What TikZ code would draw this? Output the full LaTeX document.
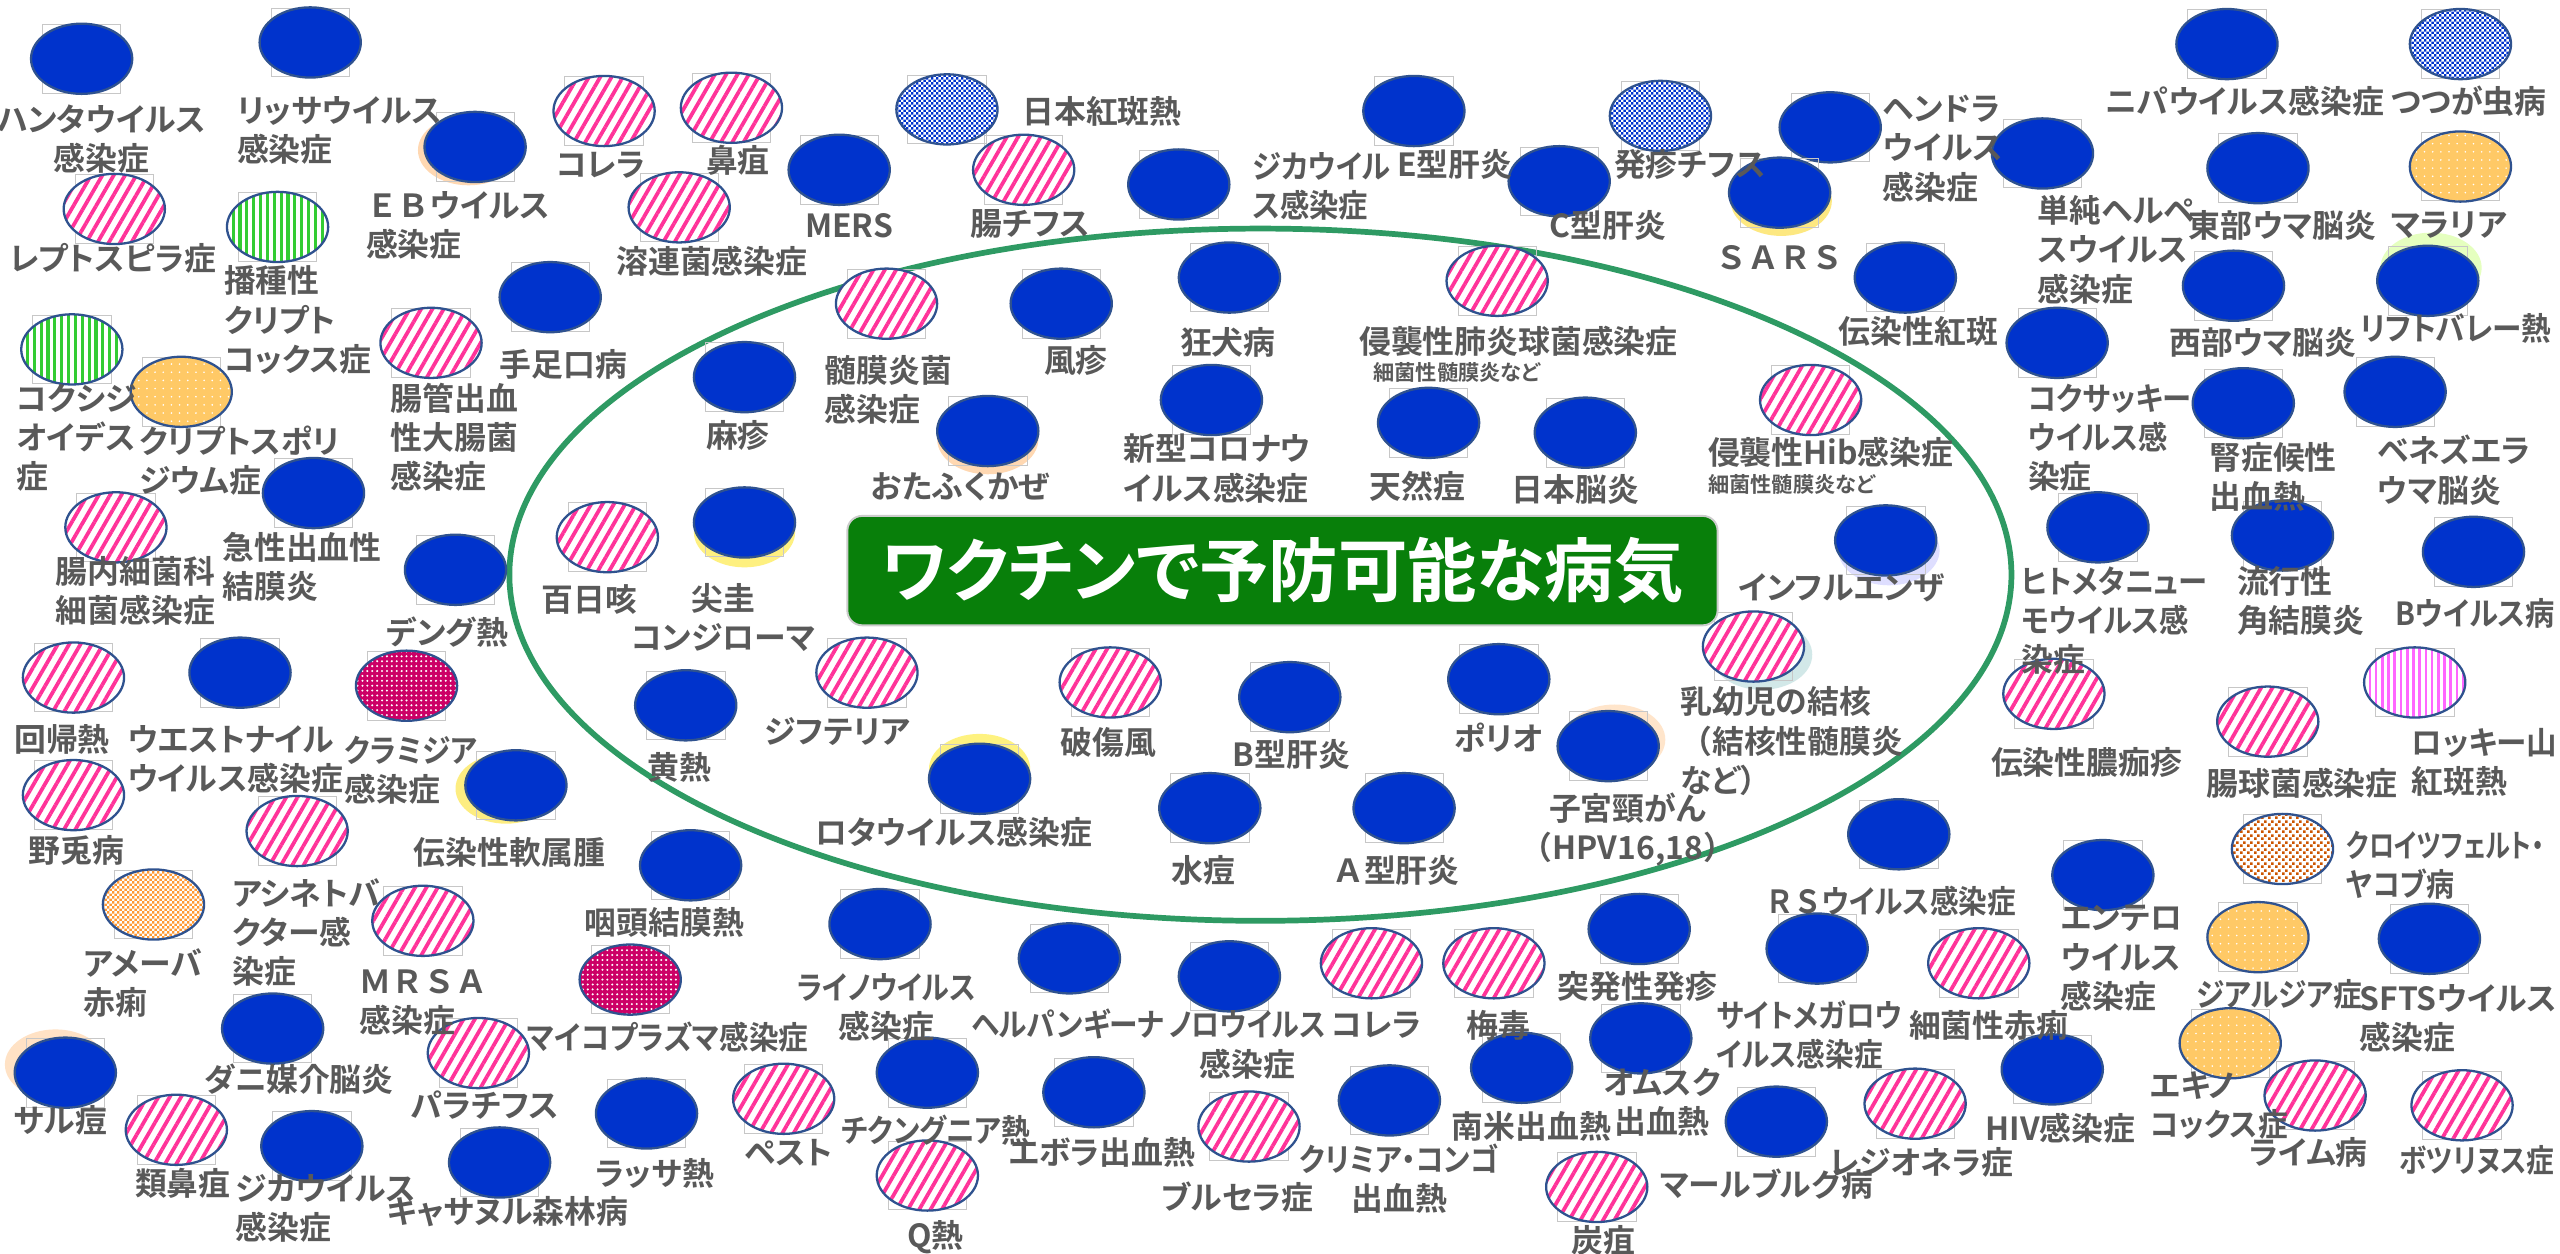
\documentclass[tikz,border=0pt]{standalone}
\usepackage{fontspec}
\usetikzlibrary{shapes.geometric,patterns.meta}
\newfontfamily\jp{Noto Sans CJK JP}[BoldFont={Noto Sans CJK JP Bold},RawFeature=+palt]
\newfontfamily\jpn{Noto Sans CJK JP}[BoldFont={Noto Sans CJK JP Bold}]
\definecolor{fillblue}{HTML}{0033CC}
\definecolor{edgeblue}{HTML}{2F528F}
\definecolor{txtgray}{HTML}{595959}
\definecolor{stripepink}{HTML}{FF3399}
\definecolor{stripegreen}{HTML}{33CC33}
\definecolor{dotyellow}{HTML}{FFC966}
\definecolor{dotcrimson}{HTML}{CC0066}
\definecolor{amoebaorange}{HTML}{FF9933}
\definecolor{vpink}{HTML}{FF66FF}
\definecolor{cjdbrown}{HTML}{CC5500}
\definecolor{ringgreen}{HTML}{2E9A63}
\definecolor{titlegreen}{HTML}{087F0A}
\pgfdeclarelayer{labels}
\pgfsetlayers{main,labels}
\pgfdeclarepattern{name=checker, type=uncolored,
  bottom left={\pgfpoint{0pt}{0pt}}, top right={\pgfpoint{3pt}{3pt}},
  tile size={\pgfpoint{3pt}{3pt}},
  code={\pgfpathrectangle{\pgfpoint{0pt}{0pt}}{\pgfpoint{1.5pt}{1.5pt}}%
        \pgfpathrectangle{\pgfpoint{1.5pt}{1.5pt}}{\pgfpoint{1.5pt}{1.5pt}}%
        \pgfusepath{fill}}}
\pgfdeclarepattern{name=sqdots, type=uncolored,
  bottom left={\pgfpoint{0pt}{0pt}}, top right={\pgfpoint{4pt}{4pt}},
  tile size={\pgfpoint{4pt}{4pt}},
  code={\pgfpathrectangle{\pgfpoint{0pt}{0pt}}{\pgfpoint{1.7pt}{1.7pt}}%
        \pgfpathrectangle{\pgfpoint{2pt}{2pt}}{\pgfpoint{1.7pt}{1.7pt}}%
        \pgfusepath{fill}}}
\tikzset{
  ov/.style={ellipse, minimum width=62pt, minimum height=43pt, inner sep=0pt, draw=edgeblue, line width=1.4pt},
  bl/.style={ov, fill=fillblue},
  st/.style={ov, preaction={fill=white}, pattern={Lines[angle=60,distance=6pt,line width=2.3pt]}, pattern color=stripepink},
  gr/.style={ov, preaction={fill=white}, pattern={Lines[angle=90,distance=4.2pt,line width=2pt]}, pattern color=stripegreen},
  vp/.style={ov, preaction={fill=white}, pattern={Lines[angle=90,distance=3.8pt,line width=1.6pt]}, pattern color=vpink},
  yd/.style={ov, preaction={fill=dotyellow}, pattern={Dots[radius=0.55pt,distance=5pt]}, pattern color=white},
  cd/.style={ov, preaction={fill=dotcrimson}, pattern={Dots[radius=0.7pt,distance=3pt]}, pattern color=white},
  bc/.style={ov, preaction={fill=fillblue}, pattern=checker, pattern color=white},
  oc/.style={ov, preaction={fill=amoebaorange}, pattern=checker, pattern color=white},
  bd/.style={ov, preaction={fill=white}, pattern=sqdots, pattern color=cjdbrown},
  fr/.style={rectangle, draw=black!22, line width=0.5pt, minimum width=48pt, minimum height=42pt, inner sep=0pt},
  gl/.style={ellipse, minimum width=62pt, minimum height=43pt, inner sep=0pt, fill=#1, opacity=0.5},
  lbl/.style={font=\jp\bfseries\fontsize{19.5}{24}\selectfont, text=txtgray, inner sep=0pt, align=center},
  L/.style={anchor=west, align=left},
  sm/.style={font=\jp\bfseries\fontsize{13}{15}\selectfont, text=txtgray, inner sep=0pt, anchor=west},
  titlebox/.style={rectangle, rounded corners=9pt, fill=titlegreen, draw=black!20, line width=1.2pt,
    minimum width=533pt, minimum height=67pt, text=white, inner sep=0pt,
    font=\jp\bfseries\fontsize{42.5}{47}\selectfont},
  ring/.style={ellipse, draw=ringgreen, line width=3.5pt, minimum width=920pt, minimum height=424pt, inner sep=0pt}
}
\newcommand{\dz}[8]{%
  \node[fr] (#1f) at (#3,#4) {};
  \node[#2] (#1) at (#3,#4) {};
  \begin{pgfonlayer}{labels}\node[lbl,#7] (#1t) at (#5,#6) {#8};\end{pgfonlayer}}
\newcommand{\glow}[4]{\node[gl=#2] (#1) at (#3,#4) {};}
\newcommand{\nx}[2][0.9]{\scalebox{#1}[1]{#2}}
\begin{document}
\begin{tikzpicture}[x=1pt,y=-1pt]
\fill[white] (0,0) rectangle (1568,768);
\path[use as bounding box] (0,0) rectangle (1568,768);
\node[ring] (ring) at (772,352) {};
% ---- outside the ring ----
\dz{hanta}{bl}{50}{36}{62}{85}{}{ハンタウイルス\\感染症}
\dz{lyssa}{bl}{190}{26}{145}{80}{L}{リッサウイルス\\感染症}
\dz{lepto}{st}{70}{128}{69}{158}{}{レプトスピラ症}
\dz{dcrypto}{gr}{170}{139}{137}{196}{L}{播種性\\クリプト\\コックス症}
\glow{ebg}{orange!60}{287}{92}
\dz{ebv}{bl}{291}{90}{224}{138}{L}{{\jpn ＥＢ}ウイルス\\感染症}
\dz{cholA}{st}{370}{68}{368}{101}{}{コレラ}
\dz{glanders}{st}{448}{66}{452}{98}{}{鼻疽}
\dz{strep}{st}{416}{127}{436}{160}{}{溶連菌感染症}
\dz{mers}{bl}{514}{104}{520}{138}{}{MERS}
\dz{jsf}{bc}{580}{67}{626}{68}{anchor=west}{日本紅斑熱}
\dz{typhoid}{st}{627}{104}{631}{137}{}{腸チフス}
\dz{zikaA}{bl}{722}{113}{767}{114}{L}{\nx[0.92]{ジカウイル}\\\nx[0.92]{ス感染症}}
\dz{hepE}{bl}{866}{68}{891}{101}{}{E型肝炎}
\dz{typhus}{bc}{1017}{71}{1035}{101}{}{発疹チフス}
\dz{hepC}{bl}{955}{111}{985}{138}{}{C型肝炎}
\dz{hendra}{bl}{1121}{78}{1153}{91}{L}{ヘンドラ\\ウイルス\\感染症}
\glow{sarsg}{yellow!70!orange}{1091}{123}
\dz{sars}{bl}{1090}{118}{1090}{158}{}{{\jpn ＳＡＲＳ}}
\dz{fifth}{bl}{1167}{170}{1175}{203}{}{伝染性紅斑}
\dz{hsv}{bl}{1251}{94}{1248}{153}{L}{単純ヘルペ\\スウイルス\\感染症}
\dz{nipah}{bl}{1364}{27}{1375}{62}{}{ニパウイルス感染症}
\dz{tsutsuga}{bc}{1507}{27}{1512}{62}{}{つつが虫病}
\dz{eee}{bl}{1383}{103}{1398}{138}{}{東部ウマ脳炎}
\dz{malaria}{yd}{1507}{102}{1500}{138}{}{マラリア}
\dz{wee}{bl}{1368}{175}{1386}{210}{}{西部ウマ脳炎}
\glow{rvfg}{green!40!yellow!50}{1489}{164}
\dz{rvf}{bl}{1487}{172}{1504}{201}{}{\nx[0.93]{リフトバレー熱}}
\dz{coxsackie}{bl}{1260}{210}{1242}{268}{L}{\nx[0.92]{コクサッキー}\\\nx[0.92]{ウイルス感}\\染症}
\dz{hfrs}{bl}{1374}{247}{1353}{292}{L}{腎症候性\\出血熱}
\dz{vee}{bl}{1467}{240}{1456}{288}{L}{ベネズエラ\\ウマ脳炎}
\dz{hmpv}{bl}{1285}{323}{1238}{380}{L}{\nx[0.92]{ヒトメタニュー}\\\nx[0.92]{モウイルス感}\\染症}
\dz{ekc}{bl}{1398}{328}{1370}{368}{L}{流行性\\角結膜炎}
\dz{bvirus}{bl}{1515}{338}{1516}{376}{}{\nx[0.92]{Bウイルス病}}
\dz{rmsf}{vp}{1479}{418}{1477}{467}{L}{\nx[0.96]{ロッキー山}\\紅斑熱}
\dz{impetigo}{st}{1258}{425}{1278}{467}{}{伝染性膿痂疹}
\dz{enterococ}{st}{1389}{442}{1410}{480}{}{腸球菌感染症}
\dz{cjd}{bd}{1398}{520}{1437}{530}{L}{\nx[0.79]{クロイツフェルト・}\\\nx[0.88]{ヤコブ病}}
\dz{entero}{bl}{1288}{536}{1262}{587}{L}{エンテロ\\ウイルス\\感染症}
\dz{giardia}{yd}{1383}{574}{1396}{609}{}{\nx{ジアルジア症}}
\dz{sfts}{bl}{1488}{575}{1445}{624}{L}{SFTSウイルス\\感染症}
\dz{echino}{yd}{1366}{639}{1317}{677}{L}{エキノ\\\nx[0.93]{コックス症}}
\dz{lyme}{st}{1418}{671}{1414}{706}{}{ライム病}
\dz{botulism}{st}{1508}{677}{1517}{711}{}{\nx[0.87]{ボツリヌス症}}
\dz{hiv}{bl}{1257}{655}{1262}{691}{}{HIV感染症}
\dz{legion}{st}{1173}{676}{1177}{712}{}{レジオネラ症}
\dz{shigella}{st}{1212}{590}{1218}{628}{}{細菌性赤痢}
\dz{cmv}{bl}{1113}{581}{1051}{634}{L}{\nx{サイトメガロウ}\\\nx{イルス感染症}}
\dz{rsv}{bl}{1163}{511}{1158}{552}{}{\nx{{\jpn ＲＳ}ウイルス感染症}}
\dz{marburg}{bl}{1088}{687}{1082}{725}{}{マールブルグ病}
\dz{roseola}{bl}{1004}{569}{1003}{604}{}{突発性発疹}
\dz{omsk}{bl}{1005}{636}{1018}{675}{}{オムスク\\出血熱}
\dz{sahf}{bl}{932}{654}{938}{690}{}{南米出血熱}
\dz{anthrax}{st}{978}{727}{982}{760}{}{炭疽}
\dz{syphilis}{st}{915}{590}{918}{628}{}{梅毒}
\dz{cholB}{st}{840}{590}{843}{628}{}{コレラ}
\dz{cchf}{bl}{851}{674}{857}{722}{}{\nx{クリミア・コンゴ}\\出血熱}
\dz{brucella}{st}{765}{690}{758}{733}{}{ブルセラ症}
\dz{noro}{bl}{753}{598}{764}{640}{}{\nx[0.88]{ノロウイルス}\\感染症}
\dz{herpangina}{bl}{655}{587}{654}{627}{}{\nx{ヘルパンギーナ}}
\dz{ebola}{bl}{670}{669}{675}{706}{}{エボラ出血熱}
\dz{rhino}{bl}{539}{566}{543}{617}{}{\nx[0.88]{ライノウイルス}\\感染症}
\dz{chik}{bl}{568}{657}{573}{692}{}{\nx{チクングニア熱}}
\dz{qfever}{st}{568}{720}{573}{758}{}{Q熱}
\dz{plague}{st}{480}{673}{483}{706}{}{ペスト}
\dz{lassa}{bl}{396}{682}{401}{719}{}{ラッサ熱}
\dz{kfd}{bl}{306}{712}{311}{742}{}{キャサヌル森林病}
\dz{paraty}{st}{293}{645}{297}{677}{}{パラチフス}
\dz{myco}{cd}{386}{600}{409}{635}{}{\nx[0.93]{マイコプラズマ感染症}}
\dz{pcf}{bl}{423}{530}{407}{565}{}{咽頭結膜熱}
\dz{mrsa}{st}{259}{564}{220}{614}{L}{{\jpn ＭＲＳＡ}\\感染症}
\dz{tbe}{bl}{167}{630}{183}{661}{}{ダニ媒介脳炎}
\dz{zikaB}{bl}{191}{702}{144}{740}{L}{ジカウイルス\\感染症}
\dz{melioid}{st}{108}{692}{112}{725}{}{類鼻疽}
\glow{mpoxg}{orange!45}{34}{652}
\dz{mpox}{bl}{40}{657}{37}{686}{}{サル痘}
\dz{amoeba}{oc}{94}{554}{51}{602}{L}{アメーバ\\赤痢}
\dz{acineto}{st}{182}{509}{142}{571}{L}{アシネトバ\\クター感\\染症}
\glow{molg}{yellow!80!orange}{310}{483}
\dz{mollusc}{bl}{316}{481}{312}{522}{}{伝染性軟属腫}
\dz{tularemia}{st}{45}{487}{47}{521}{}{野兎病}
\dz{relapsing}{st}{45}{415}{38}{453}{}{回帰熱}
\dz{wnv}{bl}{147}{412}{78}{465}{L}{ウエストナイル\\ウイルス感染症}
\dz{chlamydia}{cd}{249}{420}{211}{472}{L}{\nx{クラミジア}\\感染症}
\dz{dengue}{bl}{279}{349}{274}{387}{}{デング熱}
\dz{cre}{st}{71}{323}{34}{362}{L}{腸内細菌科\\細菌感染症}
\dz{ahc}{bl}{192}{302}{136}{347}{L}{急性出血性\\結膜炎}
\dz{cocci}{gr}{44}{214}{10}{268}{L}{コクシジ\\オイデス\\症}
\dz{cryptosp}{yd}{111}{240}{85}{282}{L}{クリプトスポリ\\ジウム症}
\dz{ehec}{st}{264}{210}{239}{268}{L}{腸管出血\\性大腸菌\\感染症}
\dz{hfmd}{bl}{337}{182}{345}{223}{}{手足口病}
% ---- inside the ring ----
\dz{mening}{st}{543}{186}{505}{239}{L}{髄膜炎菌\\感染症}
\dz{rubella}{bl}{650}{186}{659}{221}{}{風疹}
\dz{rabies}{bl}{753}{170}{752}{210}{}{狂犬病}
\dz{pneumo}{st}{917}{172}{930}{209}{}{侵襲性肺炎球菌感染症}
\begin{pgfonlayer}{labels}\node[sm] (pneumos) at (841,228) {細菌性髄膜炎など};\end{pgfonlayer}
\dz{measles}{bl}{456}{231}{452}{267}{}{麻疹}
\glow{mumpsg}{orange!60}{605}{269}
\dz{mumps}{bl}{605}{264}{588}{298}{}{おたふくかぜ}
\dz{covid}{bl}{742}{245}{688}{287}{L}{新型コロナウ\\イルス感染症}
\dz{smallpox}{bl}{875}{259}{868}{298}{}{天然痘}
\dz{je}{bl}{971}{265}{965}{300}{}{日本脳炎}
\dz{hib}{st}{1109}{245}{1046}{277}{anchor=west}{侵襲性Hib感染症}
\begin{pgfonlayer}{labels}\node[sm] (hibs) at (1046,297) {細菌性髄膜炎など};\end{pgfonlayer}
\dz{pertussis}{st}{372}{329}{361}{367}{}{百日咳}
\glow{condg}{yellow!85!orange}{456}{326}
\dz{condyloma}{bl}{456}{320}{443}{378}{}{尖圭\\コンジローマ}
\glow{flug}{blue!25}{1157}{337}
\dz{flu}{bl}{1155}{331}{1128}{360}{}{インフルエンザ}
\glow{tbg}{teal!35}{1079}{401}
\dz{tb}{st}{1074}{396}{1029}{454}{L}{乳幼児の結核\\{\jpn （}結核性髄膜炎\\など{\jpn ）}}
\dz{yf}{bl}{420}{432}{416}{470}{}{黄熱}
\dz{diph}{st}{531}{412}{513}{448}{}{ジフテリア}
\dz{tetanus}{st}{680}{418}{679}{455}{}{破傷風}
\dz{hepB}{bl}{790}{427}{791}{462}{}{B型肝炎}
\dz{polio}{bl}{918}{416}{918}{452}{}{ポリオ}
\glow{hpvg}{orange!40}{989}{453}
\dz{hpv}{bl}{985}{457}{997}{508}{}{子宮頸がん\\{\jpn （}HPV16,18{\jpn ）}}
\glow{rotag}{yellow!90!orange}{600}{471}
\dz{rota}{bl}{600}{477}{584}{510}{}{ロタウイルス感染症}
\dz{varicella}{bl}{741}{495}{737}{533}{}{水痘}
\dz{hepA}{bl}{860}{495}{855}{533}{}{{\jpn Ａ}型肝炎}
% ---- title ----
\begin{pgfonlayer}{labels}
\node[titlebox] (title) at (785.5,349.5) {ワクチンで予防可能な病気};
\end{pgfonlayer}
\end{tikzpicture}
\end{document}
